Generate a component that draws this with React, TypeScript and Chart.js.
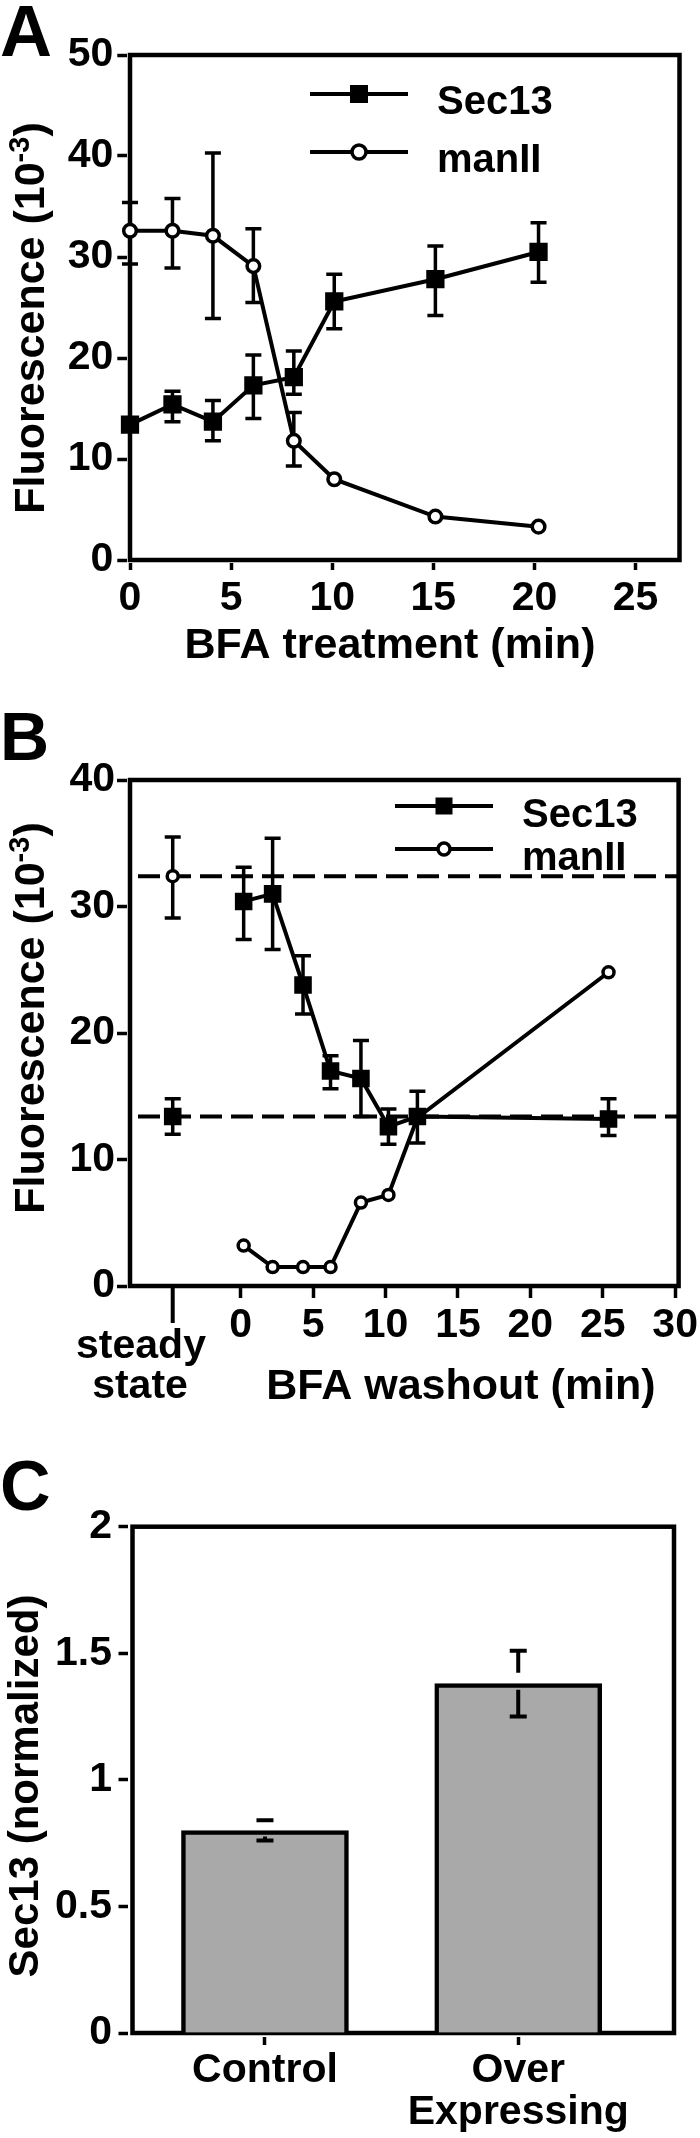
import React, { useEffect, useRef } from "react";
import { Chart, registerables } from "chart.js";

Chart.register(...registerables);

const FONT = "'Liberation Sans', Arial, Helvetica, sans-serif";
const BLACK = "#000000";

// ===== Panel A: BFA treatment =====
const A_TIME = [0, 2.1, 4.1, 6.1, 8.1, 10.1, 15.1, 20.2];
const A_SEC13 = [13.4, 15.4, 13.7, 17.3, 18.1, 25.6, 27.8, 30.5];
const A_SEC13_HI = [13.4, 16.7, 15.8, 20.3, 20.7, 28.3, 31.1, 33.4];
const A_SEC13_LO = [13.4, 13.7, 11.8, 14.0, 16.4, 22.9, 24.2, 27.5];
const A_MANII = [32.6, 32.6, 32.1, 29.1, 11.8, 8.0, 4.3, 3.3];
const A_MANII_HI = [35.4, 35.8, 40.3, 32.8, 14.6, 8.0, 4.3, 3.3];
const A_MANII_LO = [29.3, 28.9, 23.9, 25.5, 9.3, 8.0, 4.3, 3.3];
const A_X_TICKS = [0, 5, 10, 15, 20, 25];
const A_Y_TICKS = [0, 10, 20, 30, 40, 50];

// ===== Panel B: BFA washout =====
const B_TIME = [0.2, 2.2, 4.3, 6.2, 8.3, 10.2, 12.2, 25.4];
const B_SEC13 = [30.4, 31.0, 23.8, 17.0, 16.4, 12.6, 13.4, 13.2];
const B_SEC13_HI = [33.1, 35.4, 26.1, 18.2, 19.4, 14.0, 15.4, 14.8];
const B_SEC13_LO = [27.4, 26.6, 21.5, 15.6, 13.4, 11.2, 11.3, 11.9];
const B_MANII = [3.2, 1.5, 1.5, 1.5, 6.6, 7.2, 13.3, 24.8];
const B_STEADY_X = [-4.7];
const B_STEADY_SEC13 = [13.4];
const B_STEADY_SEC13_HI = [14.8];
const B_STEADY_SEC13_LO = [12.0];
const B_STEADY_MANII = [32.4];
const B_STEADY_MANII_HI = [35.5];
const B_STEADY_MANII_LO = [29.1];
const B_X_TICKS = [0, 5, 10, 15, 20, 25, 30];
const B_Y_TICKS = [0, 10, 20, 30, 40];

// ===== Panel C: Sec13 normalized =====
const C_GROUPS = [["Control"], ["Over", "Expressing"]];
const C_POS = [1, 2];
const C_VALUES = [0.8, 1.38];
const C_HI = [0.84, 1.51];
const C_LO = [0.76, 1.25];
const C_Y_TICKS = [0, 0.5, 1, 1.5, 2];

type Pt = { x: number; y: number };
const pts = (xs: number[], ys: number[]): Pt[] => xs.map((x, i) => ({ x, y: ys[i] }));

function drawText(ctx: any, text: string, x: number, y: number, size: number, align: any = "left") {
  ctx.save();
  ctx.font = `bold ${size}px ${FONT}`;
  ctx.textAlign = align;
  ctx.textBaseline = "alphabetic";
  ctx.fillStyle = BLACK;
  ctx.fillText(text, x, y);
  ctx.restore();
}

function drawVTitle(ctx: any, parts: { t: string; sup?: boolean }[], baseX: number, centerY: number, size: number) {
  ctx.save();
  ctx.translate(baseX, centerY);
  ctx.rotate(-Math.PI / 2);
  ctx.fillStyle = BLACK;
  ctx.textAlign = "left";
  ctx.textBaseline = "alphabetic";
  const supSize = Math.round(size * 0.68);
  const widths = parts.map((p) => {
    ctx.font = `bold ${p.sup ? supSize : size}px ${FONT}`;
    return ctx.measureText(p.t).width;
  });
  const total = widths.reduce((a, b) => a + b, 0);
  let x = -total / 2;
  parts.forEach((p, i) => {
    ctx.font = `bold ${p.sup ? supSize : size}px ${FONT}`;
    ctx.fillText(p.t, x, p.sup ? -size * 0.36 : 0);
    x += widths[i];
  });
  ctx.restore();
}

function drawFrame(chart: any, w: number) {
  const { left, top, right, bottom } = chart.chartArea;
  const ctx = chart.ctx;
  ctx.save();
  ctx.lineWidth = w;
  ctx.strokeStyle = BLACK;
  ctx.strokeRect(left, top, right - left, bottom - top);
  ctx.restore();
}

function drawErrorBars(chart: any, gapAbove: number, gapBelow: number, cap: number, width: number) {
  const ctx = chart.ctx;
  const xs = chart.scales.x;
  const ys = chart.scales.y;
  ctx.save();
  ctx.strokeStyle = BLACK;
  ctx.lineWidth = width;
  ctx.lineCap = "butt";
  chart.data.datasets.forEach((ds: any) => {
    if (!ds.errHi || !ds.errLo) return;
    ds.data.forEach((p: Pt, j: number) => {
      const px = xs.getPixelForValue(p.x);
      const py = ys.getPixelForValue(p.y);
      const hi = ys.getPixelForValue(ds.errHi[j]);
      const lo = ys.getPixelForValue(ds.errLo[j]);
      ctx.beginPath();
      if (py - hi > 0.5) {
        if (py - gapAbove > hi) {
          ctx.moveTo(px, py - gapAbove);
          ctx.lineTo(px, hi);
        }
        ctx.moveTo(px - cap / 2, hi);
        ctx.lineTo(px + cap / 2, hi);
      }
      if (lo - py > 0.5) {
        if (py + gapBelow < lo) {
          ctx.moveTo(px, py + gapBelow);
          ctx.lineTo(px, lo);
        }
        ctx.moveTo(px - cap / 2, lo);
        ctx.lineTo(px + cap / 2, lo);
      }
      ctx.stroke();
    });
  });
  ctx.restore();
}

function drawLegend(
  ctx: any,
  items: { label: string; y: number; ty: number; filled: boolean }[],
  x1: number,
  x2: number,
  mx: number,
  tx: number,
  sq: number,
  cr: number,
  size: number
) {
  items.forEach((it) => {
    ctx.save();
    ctx.strokeStyle = BLACK;
    ctx.lineWidth = 4;
    ctx.beginPath();
    ctx.moveTo(x1, it.y);
    ctx.lineTo(x2, it.y);
    ctx.stroke();
    if (it.filled) {
      ctx.fillStyle = BLACK;
      ctx.fillRect(mx - sq / 2, it.y - sq / 2, sq, sq);
    } else {
      ctx.fillStyle = "#ffffff";
      ctx.lineWidth = 3.5;
      ctx.beginPath();
      ctx.arc(mx, it.y, cr, 0, Math.PI * 2);
      ctx.fill();
      ctx.stroke();
    }
    ctx.restore();
    drawText(ctx, it.label, tx, it.ty, size);
  });
}

function axis(kind: "x" | "y", o: any) {
  return {
    type: "linear",
    position: kind === "x" ? "bottom" : "left",
    min: o.min,
    max: o.max,
    offset: false,
    afterBuildTicks: (s: any) => {
      s.ticks = o.ticks.map((v: number) => ({ value: v }));
    },
    afterFit: (s: any) => {
      if (kind === "x") s.height = o.size;
      else s.width = o.size;
      s.paddingLeft = 0;
      s.paddingRight = 0;
      s.paddingTop = 0;
      s.paddingBottom = 0;
    },
    grid: {
      display: true,
      offset: false,
      drawOnChartArea: false,
      drawTicks: true,
      tickLength: o.tl,
      tickWidth: 3.5,
      tickColor: BLACK,
      color: BLACK,
    },
    border: { display: true, width: o.gap, color: "rgba(0,0,0,0)" },
    ticks: {
      color: BLACK,
      font: { family: FONT, size: 41, weight: "bold", lineHeight: o.lineHeight || 1.2 },
      padding: o.pad,
      autoSkip: false,
      maxRotation: 0,
      minRotation: 0,
      callback: o.fmt || ((v: number) => String(v)),
    },
  };
}

const lineDs = (label: string, data: Pt[], filled: boolean, r: number, hi: number[], lo: number[], showLine = true) => ({
  label,
  data,
  showLine,
  borderColor: BLACK,
  borderWidth: 4,
  backgroundColor: filled ? BLACK : "#ffffff",
  pointStyle: filled ? "rect" : "circle",
  pointRadius: r,
  pointHoverRadius: r,
  pointBorderWidth: filled ? 2 : 3.5,
  pointBackgroundColor: filled ? BLACK : "#ffffff",
  pointBorderColor: BLACK,
  tension: 0,
  clip: false,
  errHi: hi,
  errLo: lo,
});

const baseOptions = (padding: any, scales: any) => ({
  responsive: false,
  animation: false,
  devicePixelRatio: 1,
  layout: { padding },
  plugins: { legend: { display: false }, tooltip: { enabled: false }, title: { display: false } },
  events: [],
  scales,
});

function configA(): any {
  const deco = {
    id: "decoA",
    beforeDatasetsDraw(chart: any) {
      drawFrame(chart, 4.5);
      drawErrorBars(chart, 0, 0, 16, 3.5);
    },
    afterDraw(chart: any) {
      const ctx = chart.ctx;
      drawText(ctx, "A", 0, 56, 72);
      drawVTitle(ctx, [{ t: "Fluorescence (10" }, { t: "-3", sup: true }, { t: ")" }], 44, 318, 43);
      drawText(ctx, "BFA treatment (min)", 390, 658, 43, "center");
      drawLegend(
        ctx,
        [
          { label: "Sec13", y: 94, ty: 114, filled: true },
          { label: "manII", y: 152, ty: 172, filled: false },
        ],
        310, 408, 359, 437, 18, 7, 40
      );
    },
  };
  return {
    type: "line",
    data: {
      datasets: [
        lineDs("Sec13", pts(A_TIME, A_SEC13), true, 11.5, A_SEC13_HI, A_SEC13_LO),
        lineDs("manII", pts(A_TIME, A_MANII), false, 6.3, A_MANII_HI, A_MANII_LO),
      ],
    },
    options: baseOptions(
      { top: 55, right: 20.5, left: 0, bottom: 0 },
      {
        x: axis("x", { min: 0, max: 27.17, ticks: A_X_TICKS, size: 120, tl: 10, gap: 6, pad: 4.4 }),
        y: axis("y", { min: 0, max: 50, ticks: A_Y_TICKS, size: 130, tl: 12.7, gap: 6.6, pad: 4 }),
      }
    ),
    plugins: [deco],
  };
}

function configB(): any {
  const deco = {
    id: "decoB",
    beforeDatasetsDraw(chart: any) {
      drawFrame(chart, 4.5);
      const ctx = chart.ctx;
      const { left, right } = chart.chartArea;
      const ys = chart.scales.y;
      ctx.save();
      ctx.strokeStyle = BLACK;
      ctx.lineWidth = 4;
      ctx.setLineDash([22, 9]);
      ctx.lineDashOffset = -8;
      [B_STEADY_MANII[0], B_STEADY_SEC13[0]].forEach((v) => {
        const y = ys.getPixelForValue(v);
        ctx.beginPath();
        ctx.moveTo(left, y);
        ctx.lineTo(right, y);
        ctx.stroke();
      });
      ctx.restore();
      drawErrorBars(chart, 0, 0, 16, 3.5);
    },
    afterDraw(chart: any) {
      const ctx = chart.ctx;
      const xs = chart.scales.x;
      const { bottom } = chart.chartArea;
      const sx = xs.getPixelForValue(B_STEADY_X[0]);
      ctx.save();
      ctx.strokeStyle = BLACK;
      ctx.lineWidth = 4;
      ctx.beginPath();
      ctx.moveTo(sx, bottom + 2);
      ctx.lineTo(sx, bottom + 37);
      ctx.stroke();
      ctx.restore();
      drawText(ctx, "steady", 141, 678, 41, "center");
      drawText(ctx, "state", 140, 718, 41, "center");
      drawText(ctx, "B", 0, 80, 68);
      drawVTitle(ctx, [{ t: "Fluorescence (10" }, { t: "-3", sup: true }, { t: ")" }], 44, 338, 43);
      drawText(ctx, "BFA washout (min)", 461, 719, 43, "center");
      drawLegend(
        ctx,
        [
          { label: "Sec13", y: 126, ty: 147, filled: true },
          { label: "manII", y: 169, ty: 190, filled: false },
        ],
        395, 493, 444, 522, 17, 6, 40
      );
    },
  };
  return {
    type: "line",
    data: {
      datasets: [
        lineDs("Sec13", pts(B_TIME, B_SEC13), true, 11, B_SEC13_HI, B_SEC13_LO),
        lineDs("manII", pts(B_TIME, B_MANII), false, 5.5, B_MANII, B_MANII),
        lineDs("Sec13 steady", pts(B_STEADY_X, B_STEADY_SEC13), true, 11, B_STEADY_SEC13_HI, B_STEADY_SEC13_LO, false),
        lineDs("manII steady", pts(B_STEADY_X, B_STEADY_MANII), false, 5.5, B_STEADY_MANII_HI, B_STEADY_MANII_LO, false),
      ],
    },
    options: baseOptions(
      { top: 100, right: 21.4, left: 0, bottom: 0 },
      {
        x: axis("x", { min: -7.65, max: 30.24, ticks: B_X_TICKS, size: 134, tl: 12, gap: 4, pad: 2.9 }),
        y: axis("y", { min: 0, max: 40, ticks: B_Y_TICKS, size: 130, tl: 13, gap: 6, pad: 2 }),
      }
    ),
    plugins: [deco],
  };
}

function configC(): any {
  const deco = {
    id: "decoC",
    beforeDatasetsDraw(chart: any) {
      drawFrame(chart, 4.5);
    },
    afterDatasetsDraw(chart: any) {
      drawErrorBars(chart, 11, 6, 17, 4);
    },
    afterDraw(chart: any) {
      const ctx = chart.ctx;
      drawText(ctx, "C", 0, 90, 70);
      drawVTitle(ctx, [{ t: "Sec13 (normalized)" }], 38, 366, 42);
    },
  };
  return {
    type: "bar",
    data: {
      datasets: [
        {
          label: "Sec13",
          data: pts(C_POS, C_VALUES),
          backgroundColor: "#a9a9a9",
          borderColor: BLACK,
          borderWidth: 4.5,
          barThickness: 167,
          clip: false,
          errHi: C_HI,
          errLo: C_LO,
        },
      ],
    },
    options: baseOptions(
      { top: 106.7, right: 26, left: 0, bottom: 0 },
      {
        x: axis("x", {
          min: 0.477,
          max: 2.615,
          ticks: C_POS,
          size: 105,
          tl: 12,
          gap: 8,
          pad: 5.3,
          lineHeight: 1.01,
          fmt: (v: number) => C_GROUPS[C_POS.indexOf(v)] || "",
        }),
        y: axis("y", { min: 0, max: 2, ticks: C_Y_TICKS, size: 132.5, tl: 14, gap: 10, pad: 6.5 }),
      }
    ),
    plugins: [deco],
  };
}

export default function App() {
  const refA = useRef<HTMLCanvasElement | null>(null);
  const refB = useRef<HTMLCanvasElement | null>(null);
  const refC = useRef<HTMLCanvasElement | null>(null);

  useEffect(() => {
    const charts = [
      new Chart(refA.current as any, configA()),
      new Chart(refB.current as any, configB()),
      new Chart(refC.current as any, configC()),
    ];
    return () => charts.forEach((c) => c.destroy());
  }, []);

  return (
    <div style={{ position: "absolute", left: 0, top: 0, width: 700, height: 2138, background: "#ffffff" }}>
      <canvas ref={refA} width={700} height={680} style={{ position: "absolute", left: 0, top: 0, display: "block" }} />
      <canvas ref={refB} width={700} height={740} style={{ position: "absolute", left: 0, top: 680, display: "block" }} />
      <canvas ref={refC} width={700} height={718} style={{ position: "absolute", left: 0, top: 1420, display: "block" }} />
    </div>
  );
}
